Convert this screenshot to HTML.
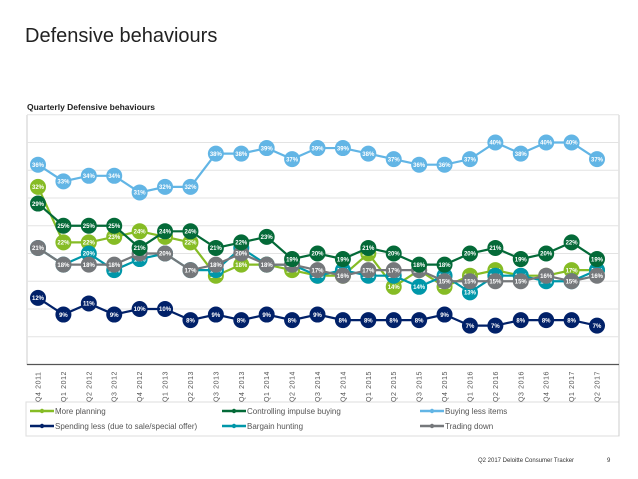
<!DOCTYPE html>
<html><head><meta charset="utf-8"><style>
body{margin:0;background:#fff;font-family:"Liberation Sans",sans-serif}
svg{display:block}
</style></head><body>
<svg id="chart" width="638" height="479">
<text x="25" y="42" font-size="20" fill="#222">Defensive behaviours</text>
<text x="27" y="110" font-size="8.5" font-weight="bold" fill="#222">Quarterly Defensive behaviours</text>
<rect x="26" y="402" width="593" height="34" fill="none" stroke="#ddd"/>
<line x1="27" y1="115" x2="27" y2="365" stroke="#ccc"/>
<line x1="619" y1="115" x2="619" y2="436" stroke="#ccc"/>
<g id="grid"></g><g id="xlabels"></g><g id="series"></g><g id="legend"></g>
<text x="478" y="462" font-size="6" fill="#333">Q2 2017 Deloitte Consumer Tracker</text>
<text x="607" y="462" font-size="6" fill="#333">9</text>
</svg>
<script>
const categories=["Q4 2011","Q1 2012","Q2 2012","Q3 2012","Q4 2012","Q1 2013","Q2 2013","Q3 2013","Q4 2013","Q1 2014","Q2 2014","Q3 2014","Q4 2014","Q1 2015","Q2 2015","Q3 2015","Q4 2015","Q1 2016","Q2 2016","Q3 2016","Q4 2016","Q1 2017","Q2 2017"];
const morePlanning=[32,22,22,23,24,23,22,16,18,18,17,16,16,20,14,17,14,16,17,16,16,17,17];
const controllingImpulse=[29,25,25,25,21,24,24,21,22,23,19,20,19,21,20,18,18,20,21,19,20,22,19];
const buyingLess=[36,33,34,34,31,32,32,38,38,39,37,39,39,38,37,36,36,37,40,38,40,40,37];
const spendingLess=[12,9,11,9,10,10,8,9,8,9,8,9,8,8,8,8,9,7,7,8,8,8,7];
const bargainHunting=[21,18,20,17,19,20,17,17,21,18,18,16,17,16,16,14,16,13,16,16,15,15,17];
const tradingDown=[21,18,18,18,20,20,17,18,20,18,18,17,16,17,17,17,15,15,15,15,16,15,16];
const gridTicks=[0,5,10,15,20,25,30,35,40,45];
const seriesNames=["More planning","Controlling impulse buying","Buying less items","Spending less (due to sale/special offer)","Bargain hunting","Trading down"];
const NS="http://www.w3.org/2000/svg";
const x0=38,x1=597,yBase=364.5,pxPer=5.55;
const xs=i=>x0+i*(x1-x0)/(categories.length-1);
const ys=v=>yBase-v*pxPer;
function mk(tag,attrs,parent){const e=document.createElementNS(NS,tag);for(const k in attrs)e.setAttribute(k,attrs[k]);parent.appendChild(e);return e;}
const grid=document.getElementById('grid');
gridTicks.forEach(t=>{if(t===0)return;const l=mk('line',{x1:27,x2:619,y1:ys(t),y2:ys(t),stroke:'#e3e3e3'},grid);

});
const ax=mk('line',{x1:27,x2:619,y1:yBase,y2:yBase,stroke:'#555','stroke-width':1.2},grid);


const xl=document.getElementById('xlabels');
categories.forEach((c,i)=>{const t=mk('text',{x:0,y:0,'font-size':7,fill:'#555',transform:`translate(${xs(i)+2.5},402) rotate(-90)`,'letter-spacing':'0.6'},xl);t.textContent=c;

});
const colors=["#86bc25","#046a38","#62b5e5","#012169","#0097a9","#75787b"];
const data=[morePlanning,controllingImpulse,buyingLess,spendingLess,bargainHunting,tradingDown];
const sg=document.getElementById('series');
const order=[2,0,4,5,1,3];
order.forEach(k=>{const vals=data[k];const g=mk('g',{},sg);


const p=mk('polyline',{points:vals.map((v,i)=>xs(i)+','+ys(v)).join(' '),fill:'none',stroke:colors[k],'stroke-width':2.2},g);


vals.forEach((v,i)=>{const c=mk('circle',{cx:xs(i),cy:ys(v),r:8,fill:colors[k]},g);


const t=mk('text',{x:xs(i),y:ys(v)+2.2,'font-size':6,'font-weight':'bold',fill:'#fff','text-anchor':'middle'},g);t.textContent=v+'%';

});});
const lg=document.getElementById('legend');
const lpos=[[30,414],[222,414],[420,414],[30,429],[222,429],[420,429]];
seriesNames.forEach((n,k)=>{const [lx,ly]=lpos[k];const g=mk('g',{},lg);


mk('line',{x1:lx,x2:lx+24,y1:ly-3,y2:ly-3,stroke:colors[k],'stroke-width':2.5},g);
mk('circle',{cx:lx+12,cy:ly-3,r:2.2,fill:colors[k]},g);
const t=mk('text',{x:lx+25,y:ly,'font-size':8,fill:'#555'},g);t.textContent=n;});
</script>
</body></html>
